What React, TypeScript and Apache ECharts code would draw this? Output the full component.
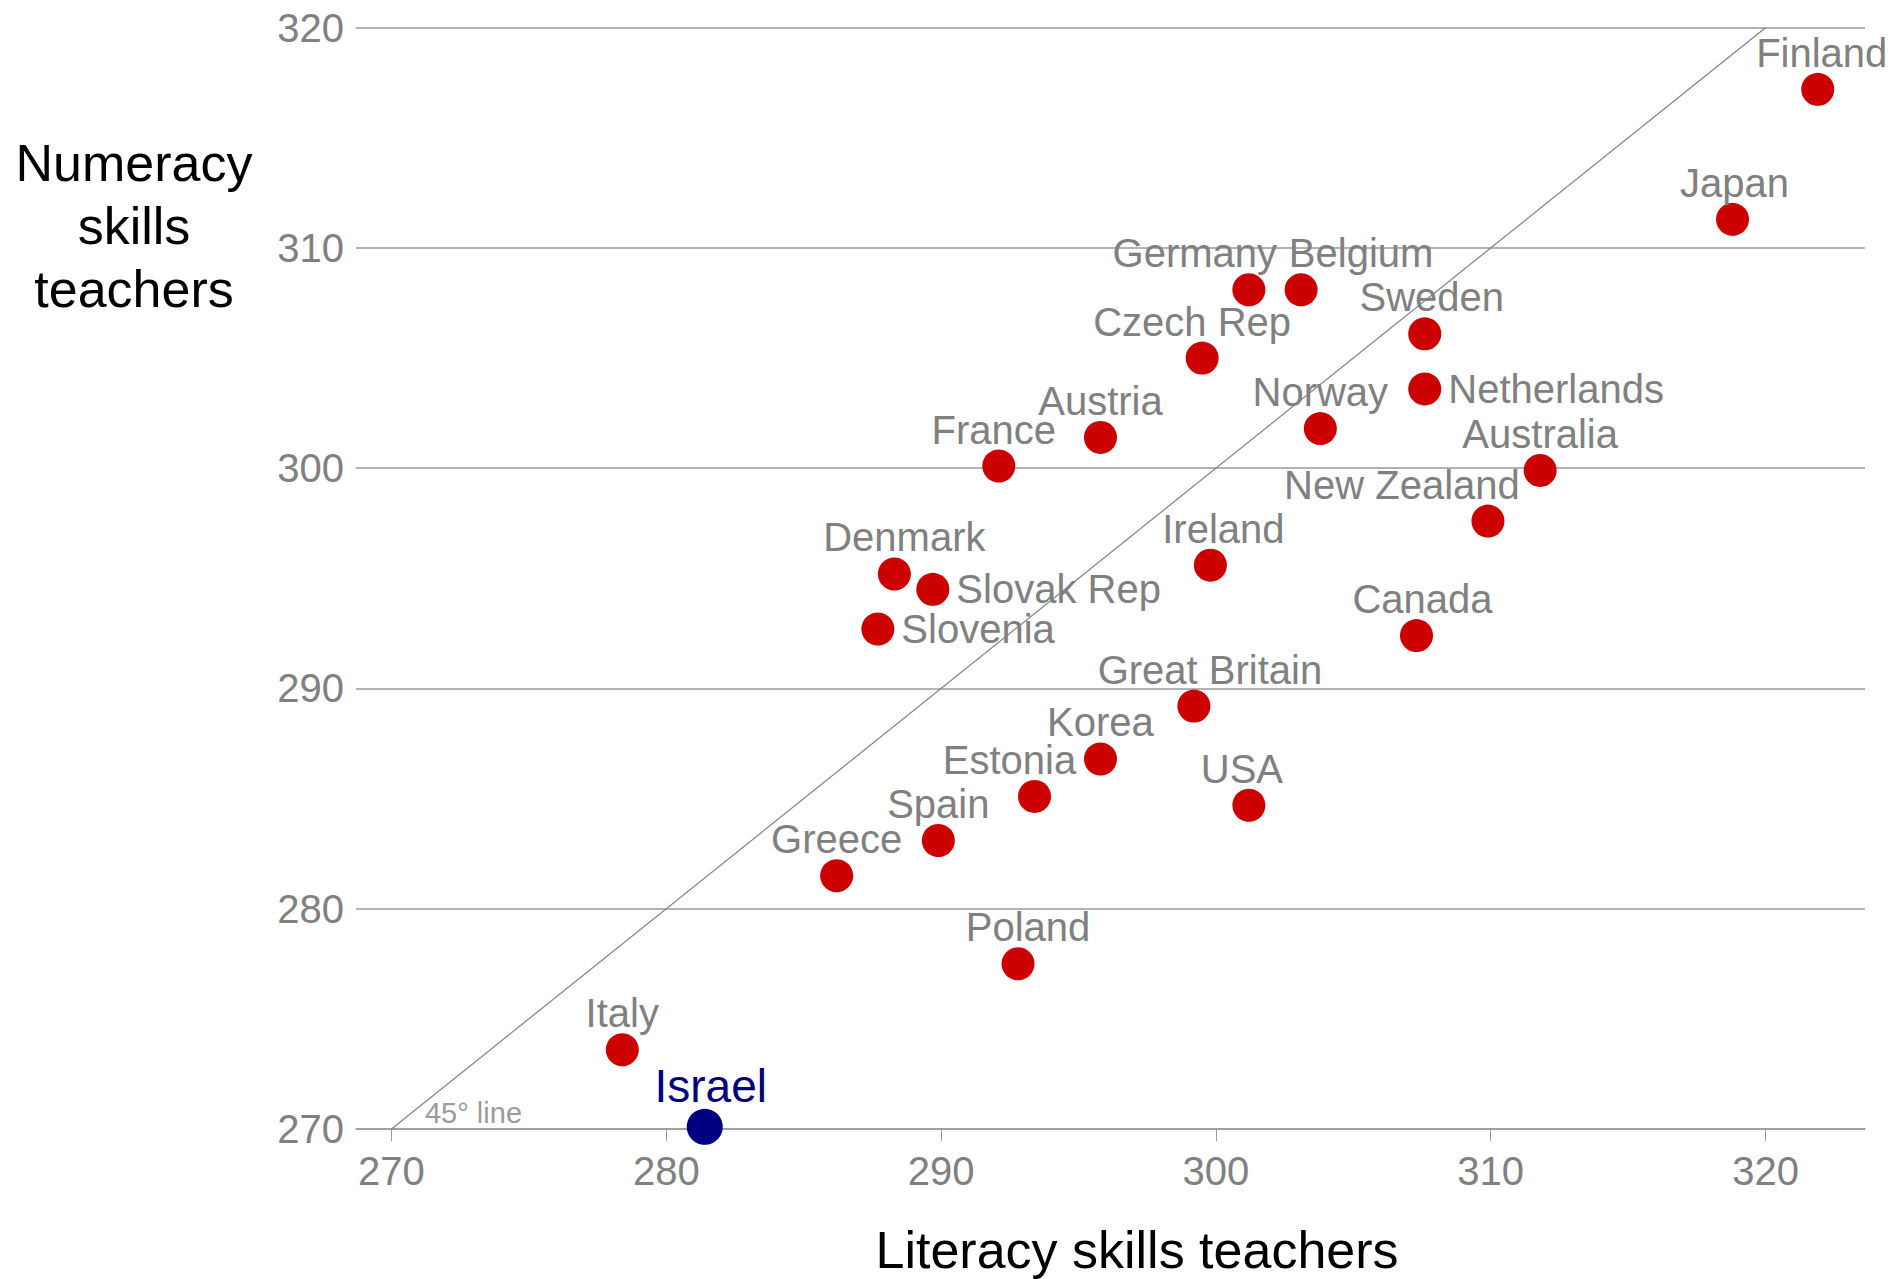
import React, { useEffect, useRef } from "react";
import * as echarts from "echarts";

// ---- Data ----
const countries = [
  "Finland", "Japan", "Germany", "Belgium", "Sweden", "Czech Rep", "Netherlands",
  "Norway", "Austria", "France", "Australia", "New Zealand", "Ireland", "Denmark",
  "Slovak Rep", "Slovenia", "Canada", "Great Britain", "Korea", "Estonia", "USA",
  "Spain", "Greece", "Poland", "Italy", "Israel",
];
const literacy = [
  321.9, 318.8, 301.2, 303.1, 307.6, 299.5, 307.6,
  303.8, 295.8, 292.1, 311.8, 309.9, 299.8, 288.3,
  289.7, 287.7, 307.3, 299.2, 295.8, 293.4, 301.2,
  289.9, 286.2, 292.8, 278.4, 281.4,
];
const numeracy = [
  317.2, 311.3, 308.1, 308.1, 306.1, 305.0, 303.6,
  301.8, 301.4, 300.1, 299.9, 297.6, 295.6, 295.2,
  294.5, 292.7, 292.4, 289.2, 286.8, 285.1, 284.7,
  283.1, 281.5, 277.5, 273.6, 270.1,
];
const xTicks = [270, 280, 290, 300, 310, 320];
const highlighted = "Israel";
const diagonalLine = [[270, 270], [320, 320]];
const diagonalLabel = "45° line";
const xTitle = "Literacy skills teachers";
const yTitle = "Numeracy\nskills\nteachers";

// ---- Label placement (styling, not data) ----
const labelShift: Record<string, number> = {
  Germany: -54, Belgium: 60, "New Zealand": -86, Estonia: -25, Ireland: 13,
  "Great Britain": 16, Denmark: 10, "Czech Rep": -10, Poland: 10, Israel: 6,
  USA: -7, Finland: 4, Canada: 6, Sweden: 7, France: -5, Japan: 2,
};
const rightLabels = ["Netherlands", "Slovak Rep", "Slovenia"];

const FONT = "'Liberation Sans', Arial, Helvetica, sans-serif";
const GREY = "#808080";
const GRID = "#9a9a9a";

export default function App() {
  const ref = useRef<HTMLDivElement>(null);

  useEffect(() => {
    const el = ref.current!;
    const chart = echarts.init(el, null, { renderer: "svg" });

    const makeItem = (i: number) => {
      const name = countries[i];
      const label = rightLabels.includes(name)
        ? { position: "right", distance: 7 }
        : { position: "top", distance: 0, offset: [labelShift[name] || 0, 0] };
      return { name, value: [literacy[i], numeracy[i]], label };
    };

    const idx = countries.map((_, i) => i);
    const mainData = idx.filter((i) => countries[i] !== highlighted).map(makeItem);
    const hiData = idx.filter((i) => countries[i] === highlighted).map(makeItem);

    const option: any = {
      animation: false,
      backgroundColor: "#ffffff",
      grid: { left: 356, right: 29, top: 27.7, bottom: 150 },
      xAxis: {
        type: "value",
        min: 268.71,
        max: 323.62,
        axisLine: { show: true, onZero: false, lineStyle: { color: GRID, width: 1.5 } },
        axisTick: { show: true, customValues: xTicks, length: 12, lineStyle: { color: GRID, width: 1 } },
        axisLabel: { customValues: xTicks, color: GREY, fontSize: 40, fontFamily: FONT, margin: 22 },
        splitLine: { show: false },
      },
      yAxis: {
        type: "value",
        min: 270,
        max: 320,
        interval: 10,
        axisLine: { show: false },
        axisTick: { show: false },
        axisLabel: { color: GREY, fontSize: 40, fontFamily: FONT, margin: 12 },
        splitLine: { show: true, lineStyle: { color: GRID, width: 1.5 } },
      },
      graphic: [
        {
          type: "text",
          x: 134,
          y: 226,
          style: {
            text: yTitle,
            fill: "#000",
            font: `52px ${FONT}`,
            textAlign: "center",
            textVerticalAlign: "middle",
            lineHeight: 63,
          },
        },
        {
          type: "text",
          x: 1137,
          y: 1250,
          style: {
            text: xTitle,
            fill: "#000",
            font: `52px ${FONT}`,
            textAlign: "center",
            textVerticalAlign: "middle",
          },
        },
      ],
      series: [
        {
          type: "line",
          data: diagonalLine,
          symbol: "none",
          silent: true,
          lineStyle: { color: GREY, width: 1.2 },
          z: 1,
        },
        {
          type: "scatter",
          data: [{ value: diagonalLine[0] }],
          symbolSize: 1,
          silent: true,
          itemStyle: { color: "rgba(0,0,0,0)" },
          label: {
            show: true,
            formatter: diagonalLabel,
            position: "right",
            distance: 0,
            offset: [33, -16],
            color: GREY,
            fontSize: 29,
            fontFamily: FONT,
          },
          z: 2,
        },
        {
          type: "scatter",
          data: mainData,
          symbol: "circle",
          symbolSize: 33,
          itemStyle: { color: "#cc0000", opacity: 1 },
          label: {
            show: true,
            formatter: "{b}",
            color: GREY,
            fontSize: 40,
            fontFamily: FONT,
          },
          z: 3,
        },
        {
          type: "scatter",
          data: hiData,
          symbol: "circle",
          symbolSize: 36,
          itemStyle: { color: "#000080", opacity: 1 },
          label: {
            show: true,
            formatter: "{b}",
            color: "#000080",
            fontSize: 46,
            fontFamily: FONT,
          },
          z: 4,
        },
      ],
    };

    chart.setOption(option);
    return () => chart.dispose();
  }, []);

  return (
    <div
      ref={ref}
      style={{ position: "fixed", left: 0, top: 0, width: 1894, height: 1279, background: "#fff" }}
    />
  );
}
